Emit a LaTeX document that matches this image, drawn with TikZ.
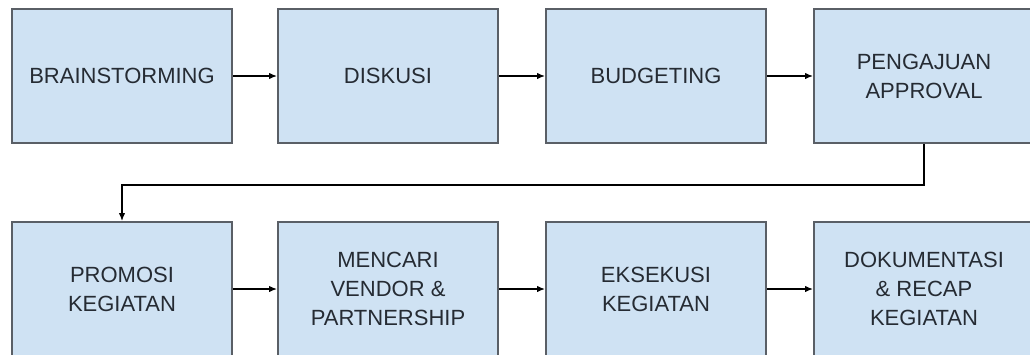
\documentclass[tikz,border=0pt]{standalone}
\usepackage{fontspec}
\setmainfont{Liberation Sans}
\usetikzlibrary{arrows.meta}
\definecolor{boxfill}{HTML}{CFE2F3}
\definecolor{boxline}{HTML}{5A5F66}
\definecolor{txt}{HTML}{252B33}
\tikzset{
  stepbox/.style={draw=boxline, fill=boxfill, line width=2pt, rectangle,
    minimum width=220pt, minimum height=134pt, inner sep=0pt, align=center,
    text=txt, font=\fontsize{22}{29}\selectfont},
  conn/.style={draw=black, line width=1.3pt, -{Latex[length=8pt,width=6.5pt]}}
}
\begin{document}
\begin{tikzpicture}[x=1pt,y=-1pt]
\clip (0,0) rectangle (1030,354);
\fill[white] (0,0) rectangle (1030,354);
\node[stepbox] (b1) at (122,76) {BRAINSTORMING};
\node[stepbox] (b2) at (388,76) {DISKUSI};
\node[stepbox] (b3) at (656,76) {BUDGETING};
\node[stepbox] (b4) at (924,76) {PENGAJUAN\\APPROVAL};
\node[stepbox] (b5) at (122,289) {PROMOSI\\KEGIATAN};
\node[stepbox] (b6) at (388,289) {MENCARI\\VENDOR \&\\PARTNERSHIP};
\node[stepbox] (b7) at (656,289) {EKSEKUSI\\KEGIATAN};
\node[stepbox] (b8) at (924,289) {DOKUMENTASI\\\& RECAP\\KEGIATAN};
\draw[conn] (b1) -- (b2);
\draw[conn] (b2) -- (b3);
\draw[conn] (b3) -- (b4);
\draw[conn] (b4.south) -- ++(0,41) -| (b5.north);
\draw[conn] (b5) -- (b6);
\draw[conn] (b6) -- (b7);
\draw[conn] (b7) -- (b8);
\end{tikzpicture}
\end{document}
